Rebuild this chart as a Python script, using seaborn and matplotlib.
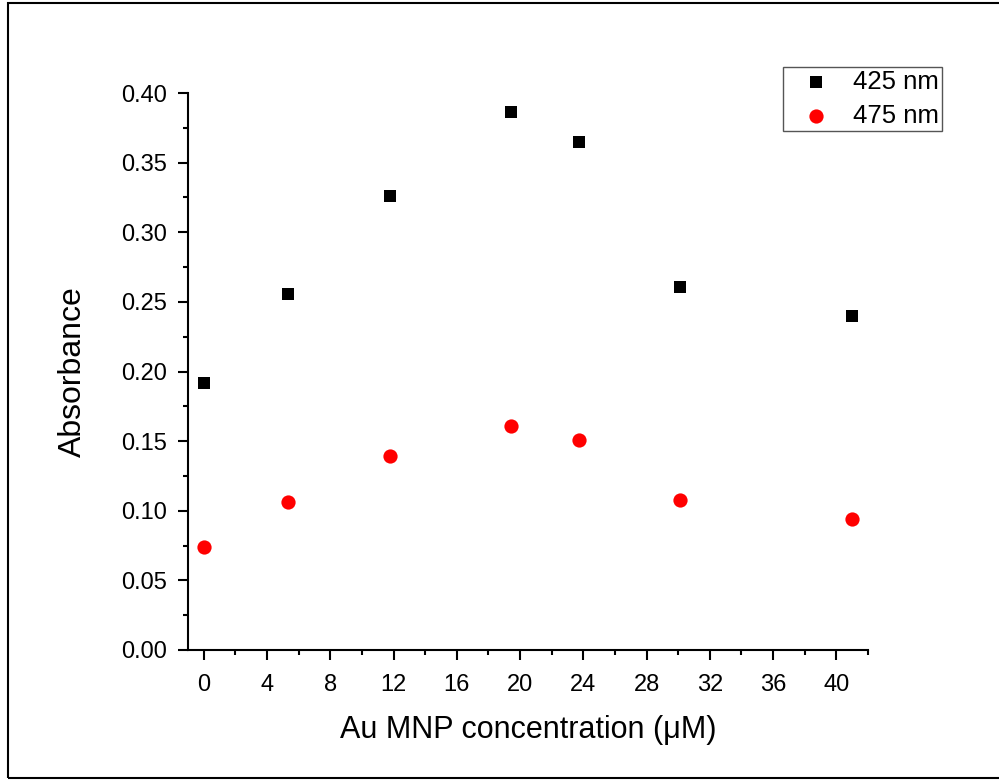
import matplotlib
matplotlib.use("Agg")
import matplotlib.pyplot as plt
import matplotlib.patches as mpatches
from matplotlib.ticker import MultipleLocator
import seaborn as sns
import pandas as pd

# ---- data ----
concentration = [0, 5.3, 11.8, 19.4, 23.7, 30.1, 41.0]
abs_425 = [0.192, 0.256, 0.326, 0.386, 0.365, 0.261, 0.240]
abs_475 = [0.074, 0.106, 0.139, 0.161, 0.151, 0.108, 0.094]
series_names = ["425 nm", "475 nm"]
x_ticks = [0, 4, 8, 12, 16, 20, 24, 28, 32, 36, 40]
y_ticks = [0.00, 0.05, 0.10, 0.15, 0.20, 0.25, 0.30, 0.35, 0.40]

sns.set_style("ticks")
plt.rcParams['font.family'] = ['Liberation Sans', 'DejaVu Sans']
plt.rcParams['text.color'] = 'black'
plt.rcParams['axes.labelcolor'] = 'black'

df = pd.DataFrame({
    "conc": concentration * 2,
    "absorbance": abs_425 + abs_475,
    "series": [series_names[0]] * len(concentration) + [series_names[1]] * len(concentration),
})

fig = plt.figure(figsize=(9.99, 7.8), dpi=100)
ax = fig.add_axes([188/999, 1 - 650/780, (868-188)/999, (650-93)/780])

sns.scatterplot(data=df[df.series == series_names[0]], x="conc", y="absorbance",
                color="black", marker="s", s=80, linewidth=0, ax=ax, label=series_names[0])
sns.scatterplot(data=df[df.series == series_names[1]], x="conc", y="absorbance",
                color="red", marker="o", s=105, linewidth=0, ax=ax, label=series_names[1])

ax.set_xlim(-1, 42)
ax.set_ylim(0, 0.40)
ax.set_xticks(x_ticks)
ax.set_yticks(y_ticks)
ax.set_yticklabels([f"{v:.2f}" for v in y_ticks])
ax.xaxis.set_minor_locator(MultipleLocator(2))
ax.yaxis.set_minor_locator(MultipleLocator(0.025))

for s in ["top", "right"]:
    ax.spines[s].set_visible(False)
for s in ["left", "bottom"]:
    ax.spines[s].set_linewidth(1.5)
    ax.spines[s].set_color("black")

ax.tick_params(which="major", length=7, width=1.5, labelsize=17, colors="black")
ax.tick_params(which="minor", length=3.5, width=1.5, colors="black")
ax.tick_params(axis="y", which="major", pad=8)
ax.tick_params(axis="x", which="major", pad=10)

ax.set_xlabel("Au MNP concentration (\u03bcM)", fontsize=22, labelpad=14)
ax.set_ylabel("Absorbance", fontsize=23, labelpad=24)

leg = ax.legend(loc="upper right", bbox_to_anchor=(941.7/999, 1 - 67.3/780),
                bbox_transform=fig.transFigure, borderaxespad=0, fancybox=False,
                edgecolor="#555555", framealpha=1, fontsize=18.5,
                handletextpad=0.29, borderpad=0.1, labelspacing=0.4,
                handlelength=2.34)
leg.get_frame().set_linewidth(1.0)

# outer frame
rect = mpatches.Rectangle((8/999, 2.5/780), 1.02, 1 - 5/780, transform=fig.transFigure,
                          fill=False, edgecolor="black", linewidth=1.5, clip_on=False)
fig.patches.append(rect)

fig.savefig("out.png", dpi=100)
